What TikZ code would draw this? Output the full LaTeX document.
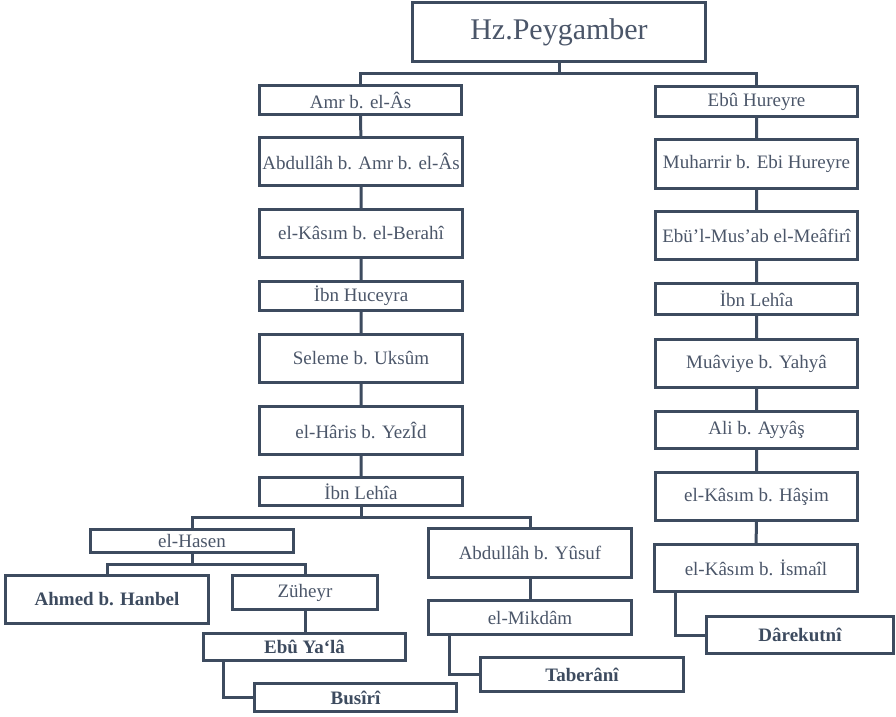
\documentclass[tikz,border=0pt]{standalone}
\usepackage{fontspec}
\setmainfont{Liberation Serif}
\usetikzlibrary{calc}
\definecolor{linec}{HTML}{3D4B5F}
\definecolor{textc}{HTML}{4B5669}
\tikzset{
  box/.style={draw=linec, line width=3pt, rectangle, inner sep=0pt, text=textc, font=\fontsize{19}{22}\selectfont},
  boldbox/.style={box, text=linec, font=\fontsize{19}{22}\selectfont\bfseries},
  conn/.style={draw=linec, line width=3pt}
}
\begin{document}
\begin{tikzpicture}[x=1pt,y=-1pt]
\useasboundingbox (0,0) rectangle (896,716);
% nodes (center, width, height)
\node[box, minimum width=293, minimum height=59, font=\fontsize{30}{34}\selectfont] (top) at (559,32) {Hz.Peygamber};
\node[box, minimum width=202, minimum height=29] (amr) at (360.5,100) {Amr b. el-Âs};
\node[box, minimum width=203, minimum height=48] (abd) at (361,161.5) {Abdullâh b. Amr b. el-Âs};
\node[box, minimum width=203, minimum height=48] (kasim) at (361,233.5) {el-Kâsım b. el-Berahî};
\node[box, minimum width=203, minimum height=29] (huc) at (361,296) {İbn Huceyra};
\node[box, minimum width=203, minimum height=48] (sel) at (361,358.5) {Seleme b. Uksûm};
\node[box, minimum width=203, minimum height=48] (har) at (361,430.5) {el-Hâris b. YezÎd};
\node[box, minimum width=203, minimum height=28] (lehL) at (361,491.5) {İbn Lehîa};
\node[box, minimum width=202, minimum height=30] (ebu) at (756.5,101.5) {Ebû Hureyre};
\node[box, minimum width=202, minimum height=49] (muh) at (756.5,164) {Muharrir b. Ebi Hureyre};
\node[box, minimum width=202, minimum height=48] (mus) at (756.5,235.5) {Ebü’l-Mus’ab el-Meâfirî};
\node[box, minimum width=202, minimum height=31] (lehR) at (756.5,299) {İbn Lehîa};
\node[box, minimum width=202, minimum height=48] (mua) at (756.5,363.5) {Muâviye b. Yahyâ};
\node[box, minimum width=202, minimum height=37] (ali) at (756.5,430) {Ali b. Ayyâş};
\node[box, minimum width=202, minimum height=48] (has) at (756.5,496.5) {el-Kâsım b. Hâşim};
\node[box, minimum width=203, minimum height=47] (ism) at (756,568) {el-Kâsım b. İsmaîl};
\node[boldbox, minimum width=187, minimum height=37] (dar) at (800,635) {Dârekutnî};
\node[box, minimum width=203, minimum height=49] (yus) at (530,553) {Abdullâh b. Yûsuf};
\node[box, minimum width=203, minimum height=34] (mik) at (530,617.5) {el-Mikdâm};
\node[boldbox, minimum width=203, minimum height=34] (tab) at (582,674.5) {Taberânî};
\node[box, minimum width=203, minimum height=23] (hsn) at (192,541) {el-Hasen};
\node[boldbox, minimum width=203, minimum height=48] (ahm) at (107,599.5) {Ahmed b. Hanbel};
\node[box, minimum width=145, minimum height=34] (zuh) at (305,592.5) {Züheyr};
\node[boldbox, minimum width=202, minimum height=27] (yal) at (304.5,647) {Ebû Ya‘lâ};
\node[boldbox, minimum width=202, minimum height=28] (bus) at (355.5,697.5) {Busîrî};
% connectors
\coordinate (j1) at ($(top.south)+(0,10)$);
\draw[conn] (top.south) -- (j1) -| (amr.north);
\draw[conn] (j1) -| (ebu.north);
\draw[conn] (amr) -- (abd) -- (kasim) -- (huc) -- (sel) -- (har) -- (lehL);
\draw[conn] (ebu) -- (muh) -- (mus) -- (lehR) -- (mua) -- (ali) -- (has) -- (ism);
\coordinate (j2) at (361,517);
\draw[conn] (lehL.south) -- (j2) -| (hsn.north);
\draw[conn] (j2) -| (yus.north);
\coordinate (j3) at (192,564);
\draw[conn] (hsn.south) -- (j3) -| (ahm.north);
\draw[conn] (j3) -| (zuh.north);
\draw[conn] (zuh.south) -- (zuh.south |- yal.north);
\draw[conn] (yus) -- (mik);
\coordinate (c1) at (223,0);
\draw[conn] (c1 |- yal.south) |- (bus.west);
\coordinate (c2) at (449,0);
\draw[conn] (c2 |- mik.south) |- (tab.west);
\coordinate (c3) at (675,0);
\draw[conn] (c3 |- ism.south) |- (dar.west);
\end{tikzpicture}
\end{document}
